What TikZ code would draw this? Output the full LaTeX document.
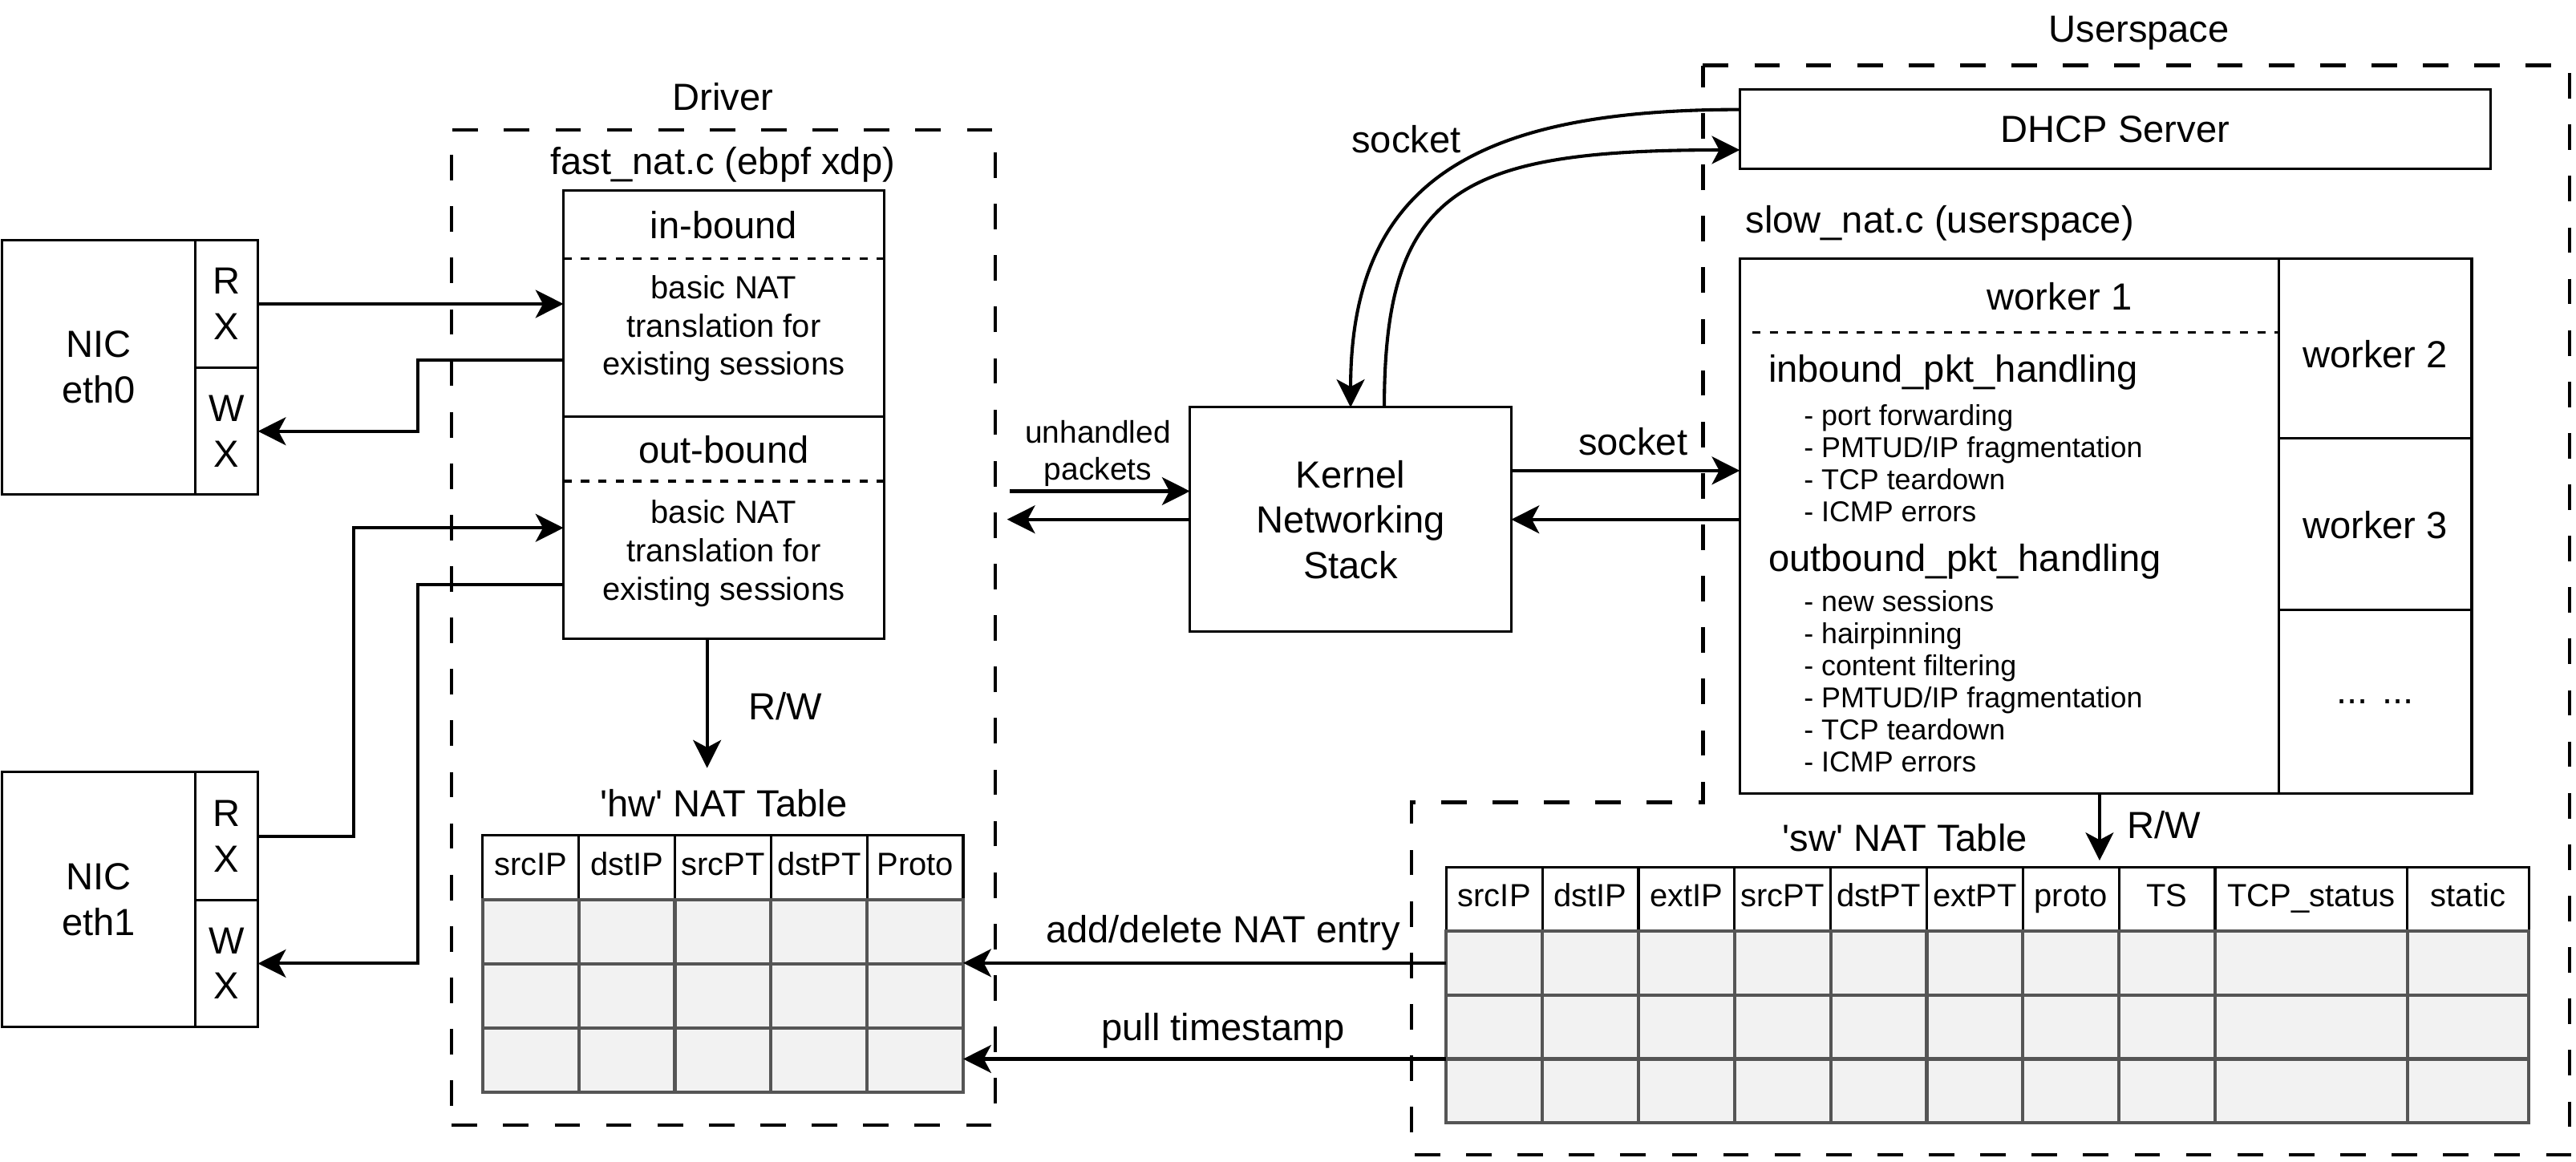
\documentclass[tikz,border=0pt]{standalone}
\usepackage{fontspec}
\setmainfont{Liberation Sans}
\usetikzlibrary{arrows.meta,calc}
\definecolor{cellfill}{HTML}{F2F2F2}
\definecolor{cellline}{HTML}{555555}
\tikzset{
  fbig/.style={font=\fontsize{23}{27.6}\selectfont},
  fmid/.style={font=\fontsize{19.5}{23.4}\selectfont},
  fun/.style={font=\fontsize{19}{22.4}\selectfont},
  fsmall/.style={font=\fontsize{17.5}{19.6}\selectfont},
  txt/.style={inner sep=0pt, outer sep=0pt},
  box/.style={draw, line width=1.5pt, inner sep=0pt, outer sep=0pt},
  region/.style={draw, line width=2pt, dash pattern=on 15.5pt off 15.8pt},
  sepline/.style={line width=1.6pt, dash pattern=on 5pt off 5.6pt},
  arr/.style={line width=2pt, -{Stealth[length=17pt, width=17pt, inset=4.5pt]}},
  cellh/.style={draw, line width=1.5pt, inner sep=0pt, outer sep=0pt, fmid,
                text height=14pt, text depth=4.5pt},
  celld/.style={draw=cellline, fill=cellfill, line width=2pt, inner sep=0pt, outer sep=0pt}
}
\begin{document}
\begin{tikzpicture}[x=1pt, y=-1pt]
\useasboundingbox (0,0) rectangle (1568,706.87);

% ---------------- NICs ----------------
\node[box, minimum width=118pt, minimum height=155pt, fbig, align=center] (nic0) at (60,223.5) {NIC\\eth0};
\node[box, minimum width=38pt, minimum height=78pt, fbig, align=center] (rx0) at (138,185) {R\\X};
\node[box, minimum width=38pt, minimum height=77pt, fbig, align=center] (wx0) at (138,262.5) {W\\X};

\node[box, minimum width=118pt, minimum height=155pt, fbig, align=center] (nic1) at (60,547.5) {NIC\\eth1};
\node[box, minimum width=38pt, minimum height=78pt, fbig, align=center] (rx1) at (138,509) {R\\X};
\node[box, minimum width=38pt, minimum height=77pt, fbig, align=center] (wx1) at (138,586.5) {W\\X};

% ---------------- Driver ----------------
\node[region, minimum width=331pt, minimum height=606pt, inner sep=0pt] (drv) at (440.5,382) {};
\node[txt, fbig] (drvlbl) at (440,59) {Driver};
\node[txt, fbig] (fastlbl) at (440,100) {fast\_nat.c (ebpf xdp)};

\node[box, minimum width=195pt, minimum height=137.7pt] (inb) at (440.5,184.85) {};
\node[box, minimum width=195pt, minimum height=135.3pt] (outb) at (440.5,321.35) {};
\draw[sepline] ($(inb.north west)+(0,41.5)$) -- ($(inb.north east)+(0,41.5)$);
\draw[sepline] ($(outb.north west)+(0,39.2)$) -- ($(outb.north east)+(0,39.2)$);
\node[txt, fbig] (inbt) at (440.5,137) {in-bound};
\node[txt, fmid, align=center] (inbd) at (440.5,200) {basic NAT\\translation for\\existing sessions};
\node[txt, fbig] (outbt) at (440.5,273.5) {out-bound};
\node[txt, fmid, align=center] (outbd) at (440.5,337) {basic NAT\\translation for\\existing sessions};

% NIC <-> fast_nat
\draw[arr] (rx0.east) -- (rx0.east -| inb.west);
\draw[arr] ([yshift=-34.5pt]inb.west) -- ++(-88.5,0) |- (wx0.east);
\draw[arr] (rx1.east) -- ++(58.5,0) |- (outb.west);
\draw[arr] ([yshift=-34.5pt]outb.west) -- ++(-88.5,0) |- (wx1.east);

% hw NAT table
\node[txt, fbig] (hwtitle) at (440.5,489) {\textquotesingle hw\textquotesingle{} NAT Table};
\foreach \c [count=\i from 0] in {srcIP,dstIP,srcPT,dstPT,Proto} {
  \node[cellh, minimum width=58.5pt, minimum height=39.1pt] (hw-0-\i) at ({323.05+58.5*\i},528.05) {\c};
}
\foreach \i in {0,...,4} {
  \foreach \r in {1,2,3} {
    \node[celld, minimum width=58.5pt, minimum height=39.1pt] (hw-\r-\i) at ({323.05+58.5*\i},{528.05+39.1*\r}) {};
  }
}
\draw[line width=1.5pt] (hw-0-0.north west) -- (hw-0-4.north east);
\draw[arr] ([xshift=-10.1pt]outb.south) -- ++(0,78.5);
\node[txt, fbig] (hwrw) at (478,430) {R/W};

% ---------------- Kernel ----------------
\node[box, minimum width=195.6pt, minimum height=136.5pt, fbig, align=center] (kern) at (822.1,316.2) {Kernel\\Networking\\Stack};
\coordinate (uin) at (614.6,299);
\coordinate (uout) at (613,316.2);
\draw[arr] (uin) -- (uin -| kern.west);
\draw[arr] (kern.west) -- (uout);
\node[txt, fun, align=center] (unh) at (668.3,276) {unhandled\\packets};

% ---------------- Userspace ----------------
\draw[region] (1036.6,39.8) -- (1564,39.8) -- (1564,703) -- (859,703) -- (859,488.4) -- (1036.6,488.4) -- cycle;
\node[txt, fbig] (uslbl) at (1302,20.3) {Userspace};
\node[box, minimum width=457pt, minimum height=48.2pt, fbig] (dhcp) at (1287.5,78.6) {DHCP Server};
\node[txt, fbig, anchor=west] (slowlbl) at (1062.5,136) {slow\_nat.c (userspace)};

\node[box, minimum width=328pt, minimum height=325.9pt] (sl1) at (1223,320.25) {};
\node[box, minimum width=117.5pt, minimum height=109.7pt] (w2) at (1445.75,212.15) {};
\node[box, minimum width=117.5pt, minimum height=104.4pt] (w3) at (1445.75,319.2) {};
\node[box, minimum width=117.5pt, minimum height=111.8pt] (w4) at (1445.75,427.3) {};
\node[txt, fbig] (w2t) at (1445.75,215.7) {worker 2};
\node[txt, fbig] (w3t) at (1445.75,319.5) {worker 3};
\node[txt, fbig] (w4t) at (1445.75,427.3) {... ...};

\draw[sepline] ($(sl1.north west)+(7.6,45.1)$) -- ($(sl1.north east)+(0,45.1)$);
\node[txt, fbig] (w1t) at (1253.6,180.6) {worker 1};
\node[txt, fbig, anchor=west] (inh) at (1076.4,226.5) {inbound\_pkt\_handling};
\node[txt, fsmall, align=left, anchor=west] (inl) at (1098,282) {- port forwarding\\- PMTUD/IP fragmentation\\- TCP teardown\\- ICMP errors};
\node[txt, fbig, anchor=west] (outh) at (1076.4,341.7) {outbound\_pkt\_handling};
\node[txt, fsmall, align=left, anchor=west] (outl) at (1098,414.8) {- new sessions\\- hairpinning\\- content filtering\\- PMTUD/IP fragmentation\\- TCP teardown\\- ICMP errors};

% kernel <-> slow_nat
\coordinate (ks) at ([yshift=29.7pt]kern.east);
\draw[arr] (ks) -- (ks -| sl1.west);
\draw[arr] (sl1.west |- kern.east) -- (kern.east);
\node[txt, fbig] (sock2) at (994,269) {socket};

% kernel <-> DHCP
\draw[arr] ([yshift=11.9pt]dhcp.west) .. controls +(-160,0) and +(0,-138) .. (kern.north);
\draw[arr] ([xshift=20.5pt]kern.north) .. controls +(0,-133) and +(-170,0) .. ([yshift=-12.7pt]dhcp.west);
\node[txt, fbig] (sock1) at (856,85) {socket};

% sw NAT table
\node[txt, fbig] (swtitle) at (1159.5,510) {\textquotesingle sw\textquotesingle{} NAT Table};
\foreach \c/\x/\w [count=\i from 0] in {srcIP/909.55/58.5, dstIP/968.05/58.5, extIP/1026.55/58.5, srcPT/1085.05/58.5, dstPT/1143.55/58.5, extPT/1202.05/58.5, proto/1260.55/58.5, TS/1319.05/58.5, TCP\_status/1406.85/117.1, static/1502.3/73.8} {
  \node[cellh, minimum width=\w pt, minimum height=38.95pt] (sw-0-\i) at (\x,547.25) {\c};
  \foreach \r in {1,2,3} {
    \node[celld, minimum width=\w pt, minimum height=38.95pt] (sw-\r-\i) at (\x,{547.25+38.95*\r}) {};
  }
}
\draw[line width=1.5pt] (sw-0-0.north west) -- (sw-0-9.north east);
\draw[arr] ([xshift=55pt]sl1.south) -- ++(0,40.6);
\node[txt, fbig] (swrw) at (1317,502) {R/W};

% sw -> hw
\draw[arr] (sw-1-0.west) -- (sw-1-0.west -| hw-1-4.east);
\draw[arr] (sw-2-0.south west) -- (sw-2-0.south west -| hw-3-4.east);
\node[txt, fbig] (adl) at (744.5,568) {add/delete NAT entry};
\node[txt, fbig] (pts) at (744.5,627.3) {pull timestamp};
\end{tikzpicture}
\end{document}
